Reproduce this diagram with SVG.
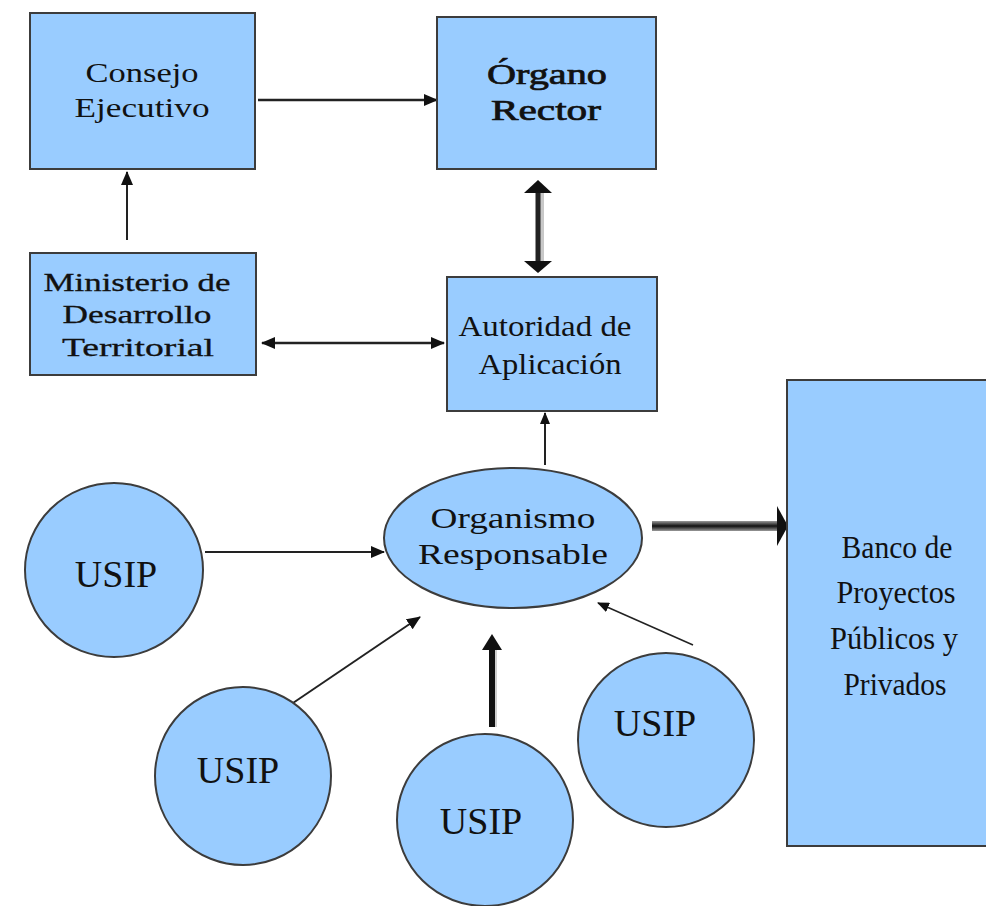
<svg xmlns="http://www.w3.org/2000/svg" width="986" height="906" viewBox="0 0 986 906">
<style>
.box{fill:#99CCFF;stroke:#3c3c3c;stroke-width:2}
.t{font-family:'Liberation Serif','Times New Roman',serif;fill:#111;text-anchor:middle}
.ln{stroke:#222;fill:none}
</style>
<defs>
<marker id="ah" markerUnits="userSpaceOnUse" markerWidth="14" markerHeight="12" refX="13" refY="6" orient="auto-start-reverse">
<path d="M0,0 L14,6 L0,12 z" fill="#111"/>
</marker>
<marker id="ahs" markerUnits="userSpaceOnUse" markerWidth="12" markerHeight="10" refX="11" refY="5" orient="auto-start-reverse">
<path d="M0,0 L12,5 L0,10 z" fill="#111"/>
</marker>
<linearGradient id="thick" x1="0" y1="0" x2="0" y2="1">
<stop offset="0" stop-color="#9a9a9a"/>
<stop offset="0.5" stop-color="#111"/>
<stop offset="1" stop-color="#9a9a9a"/>
</linearGradient>
</defs>
<rect width="986" height="906" fill="#fff"/>

<g id="connectors">
<line class="ln" x1="258" y1="100" x2="437" y2="100" stroke-width="2.5" marker-end="url(#ah)"/>
<line class="ln" x1="127" y1="240" x2="127" y2="172" stroke-width="2" marker-end="url(#ah)"/>
<line x1="542" y1="192" x2="542" y2="262" stroke="#c8c8c8" stroke-width="4"/>
<line class="ln" x1="538" y1="192" x2="538" y2="262" stroke-width="5"/>
<polygon points="538,180 552,193 524,193" fill="#111"/>
<polygon points="538,273 552,261 524,261" fill="#111"/>
<line class="ln" x1="262" y1="343" x2="444" y2="343" stroke-width="2.5" marker-start="url(#ah)" marker-end="url(#ah)"/>
<line class="ln" x1="545" y1="465" x2="545" y2="413" stroke-width="2" marker-end="url(#ahs)"/>
<rect x="652" y="521" width="127" height="10" fill="url(#thick)"/>
<polygon points="777,506 788,526 777,546" fill="#111"/>
<line class="ln" x1="205" y1="552" x2="384" y2="552" stroke-width="2" marker-end="url(#ah)"/>
<line class="ln" x1="290" y1="705" x2="420" y2="617" stroke-width="2" marker-end="url(#ah)"/>
<line x1="494" y1="727" x2="494" y2="648" stroke="#cfcfcf" stroke-width="6"/>
<line x1="492" y1="727" x2="492" y2="648" stroke="#111" stroke-width="6"/>
<polygon points="492,634 502,650 482,650" fill="#111"/>
<line class="ln" x1="693" y1="645" x2="598" y2="603" stroke-width="1.5" marker-end="url(#ahs)"/>
</g>

<g id="consejo">
<rect class="box" x="30" y="13" width="225" height="156"/>
<text class="t" font-size="28" x="142" y="82" textLength="113" lengthAdjust="spacingAndGlyphs">Consejo</text>
<text class="t" font-size="28" x="142" y="117" textLength="135" lengthAdjust="spacingAndGlyphs">Ejecutivo</text>
</g>

<g id="organo">
<rect class="box" x="437" y="17" width="219" height="152"/>
<text class="t" font-size="29" stroke="#111" stroke-width="0.7" x="547" y="84" textLength="120" lengthAdjust="spacingAndGlyphs">Órgano</text>
<text class="t" font-size="29" stroke="#111" stroke-width="0.7" x="546" y="120" textLength="110" lengthAdjust="spacingAndGlyphs">Rector</text>
</g>

<g id="ministerio">
<rect class="box" x="30" y="253" width="226" height="122"/>
<text class="t" font-size="26" x="137" y="291" textLength="187" lengthAdjust="spacingAndGlyphs" stroke="#111" stroke-width="0.3">Ministerio de</text>
<text class="t" font-size="26" x="137" y="323" textLength="149" lengthAdjust="spacingAndGlyphs" stroke="#111" stroke-width="0.3">Desarrollo</text>
<text class="t" font-size="26" x="138" y="356" textLength="152" lengthAdjust="spacingAndGlyphs" stroke="#111" stroke-width="0.3">Territorial</text>
</g>

<g id="autoridad">
<rect class="box" x="447" y="277" width="210" height="134"/>
<text class="t" font-size="30" x="545" y="336" textLength="173" lengthAdjust="spacingAndGlyphs">Autoridad de</text>
<text class="t" font-size="30" x="550" y="374" textLength="143" lengthAdjust="spacingAndGlyphs">Aplicación</text>
</g>

<g id="organismo">
<ellipse class="box" cx="513" cy="538" rx="129" ry="70"/>
<text class="t" font-size="30" x="513" y="528" textLength="165" lengthAdjust="spacingAndGlyphs">Organismo</text>
<text class="t" font-size="30" x="513" y="564" textLength="190" lengthAdjust="spacingAndGlyphs">Responsable</text>
</g>

<g id="banco">
<rect class="box" x="787" y="380" width="210" height="466"/>
<text class="t" font-size="32" x="897" y="558" textLength="111" lengthAdjust="spacingAndGlyphs">Banco de</text>
<text class="t" font-size="32" x="896" y="603" textLength="119" lengthAdjust="spacingAndGlyphs">Proyectos</text>
<text class="t" font-size="32" x="894" y="649" textLength="128" lengthAdjust="spacingAndGlyphs">Públicos y</text>
<text class="t" font-size="32" x="895" y="695" textLength="103" lengthAdjust="spacingAndGlyphs">Privados</text>
</g>

<g id="usip1">
<ellipse class="box" cx="114" cy="570" rx="89" ry="87"/>
<text class="t" font-size="38" x="116" y="587">USIP</text>
</g>
<g id="usip2">
<ellipse class="box" cx="243" cy="776" rx="88" ry="89"/>
<text class="t" font-size="38" x="238" y="783">USIP</text>
</g>
<g id="usip3">
<ellipse class="box" cx="485" cy="820" rx="88" ry="86"/>
<text class="t" font-size="38" x="481" y="834">USIP</text>
</g>
<g id="usip4">
<ellipse class="box" cx="666" cy="740" rx="88" ry="87"/>
<text class="t" font-size="38" x="655" y="736">USIP</text>
</g>
</svg>
